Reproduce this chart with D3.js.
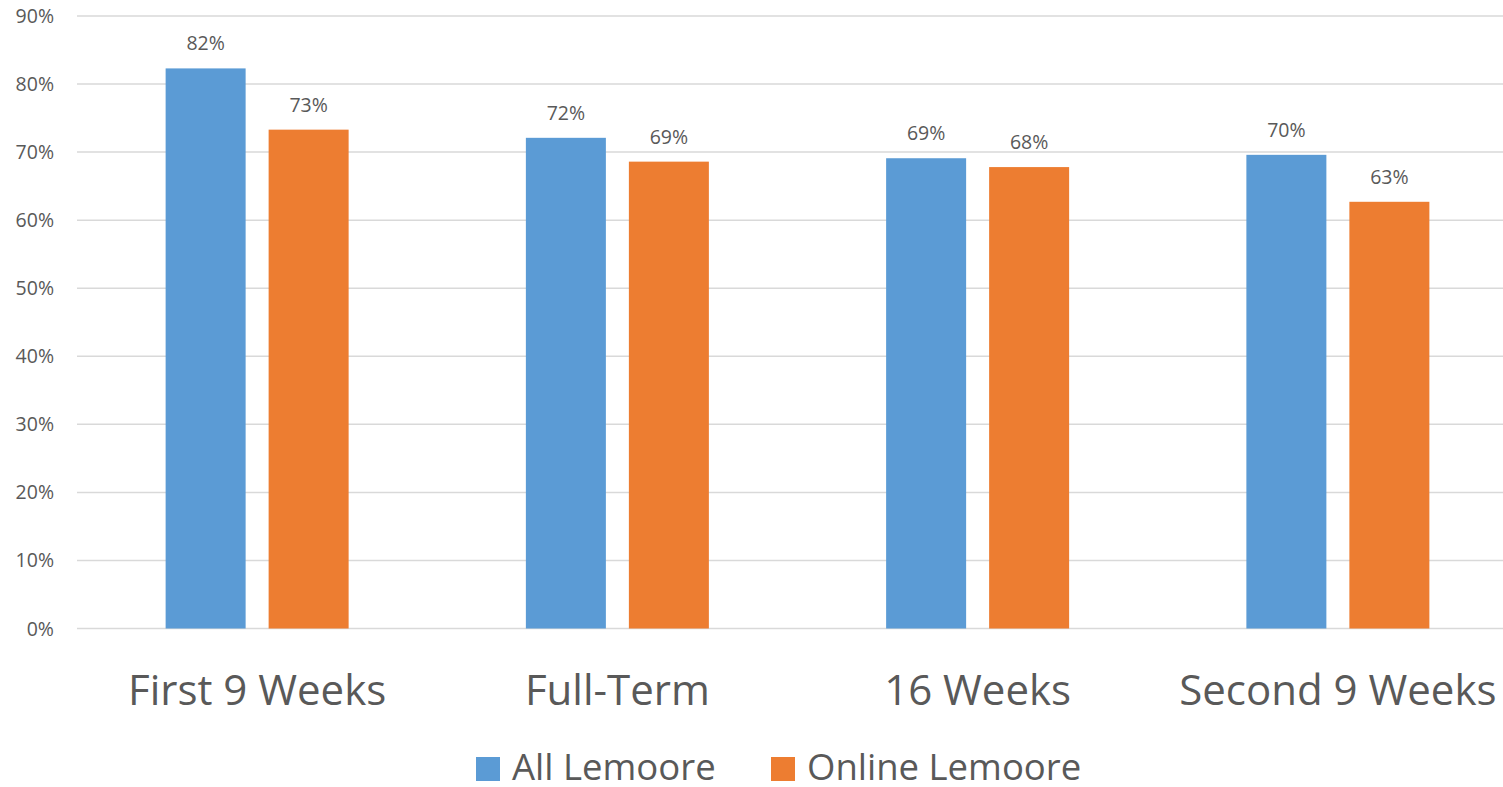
<!DOCTYPE html>
<html>
<head>
<meta charset="utf-8">
<script src="https://cdn.jsdelivr.net/npm/d3@7"></script>
<style>
  html, body { margin: 0; padding: 0; background: #fff; }
  svg { display: block; }
  text { font-family: "Open Sans", sans-serif; fill: #595959; }
</style>
</head>
<body>
<svg id="chart" width="1503" height="787"></svg>
<script>
const categories = ["First 9 Weeks", "Full-Term", "16 Weeks", "Second 9 Weeks"];
const series = ["All Lemoore", "Online Lemoore"];
const allLemoore = [0.823, 0.721, 0.691, 0.696];
const onlineLemoore = [0.733, 0.686, 0.678, 0.627];
const yTicks = [0, 0.1, 0.2, 0.3, 0.4, 0.5, 0.6, 0.7, 0.8, 0.9];
const colors = ["#5b9bd5", "#ed7d31"];

const values = [allLemoore, onlineLemoore];
const data = categories.map((c, i) => ({ cat: c, vals: series.map((s, j) => ({ s, j, v: values[j][i] })) }));

const svg = d3.select("#chart");
const W = 1503;

const x0 = d3.scaleBand().domain(categories).range([77, 1518]).padding(0);
const y = d3.scaleLinear().domain([0, 0.9]).range([628.5, 16]);
const bw = x0.bandwidth();
const x1 = d3.scaleBand().domain(series).range([bw / 2 - 91.5, bw / 2 + 91.5]).paddingInner(23 / 103).paddingOuter(0);

// gridlines
svg.append("g").selectAll("line").data(yTicks).join("line")
  .attr("x1", 77).attr("x2", W)
  .attr("y1", d => y(d)).attr("y2", d => y(d))
  .attr("stroke", "#d9d9d9").attr("stroke-width", 1.5);

// y axis labels
const fmt = d3.format(".0%");
svg.append("g").selectAll("text").data(yTicks).join("text")
  .attr("x", 54).attr("y", d => y(d) + 7)
  .attr("text-anchor", "end")
  .attr("font-size", 19.5)
  .text(d => fmt(d));

// bars
const groups = svg.append("g").selectAll("g").data(data).join("g")
  .attr("transform", d => `translate(${x0(d.cat)},0)`);

groups.selectAll("rect").data(d => d.vals).join("rect")
  .attr("x", d => x1(d.s))
  .attr("width", x1.bandwidth())
  .attr("y", d => y(d.v))
  .attr("height", d => y(0) - y(d.v))
  .attr("fill", d => colors[d.j]);

groups.selectAll("text").data(d => d.vals).join("text")
  .attr("x", d => x1(d.s) + x1.bandwidth() / 2)
  .attr("y", d => y(d.v) - 18)
  .attr("text-anchor", "middle")
  .attr("font-size", 19.5)
  .text(d => fmt(d.v));

// category labels
svg.append("g").selectAll("text").data(categories).join("text")
  .attr("x", d => x0(d) + bw / 2)
  .attr("y", 705)
  .attr("text-anchor", "middle")
  .attr("font-size", 42)
  .text(d => d);

// legend
const legendX = [476, 771];
const leg = svg.append("g").selectAll("g").data(series).join("g")
  .attr("transform", (d, i) => `translate(${legendX[i]},0)`);
leg.append("rect").attr("x", 0).attr("y", 757).attr("width", 24).attr("height", 24)
  .attr("fill", (d, i) => colors[i]);
leg.append("text").attr("x", 36).attr("y", 780).attr("font-size", 36.5).text(d => d);
</script>
</body>
</html>
